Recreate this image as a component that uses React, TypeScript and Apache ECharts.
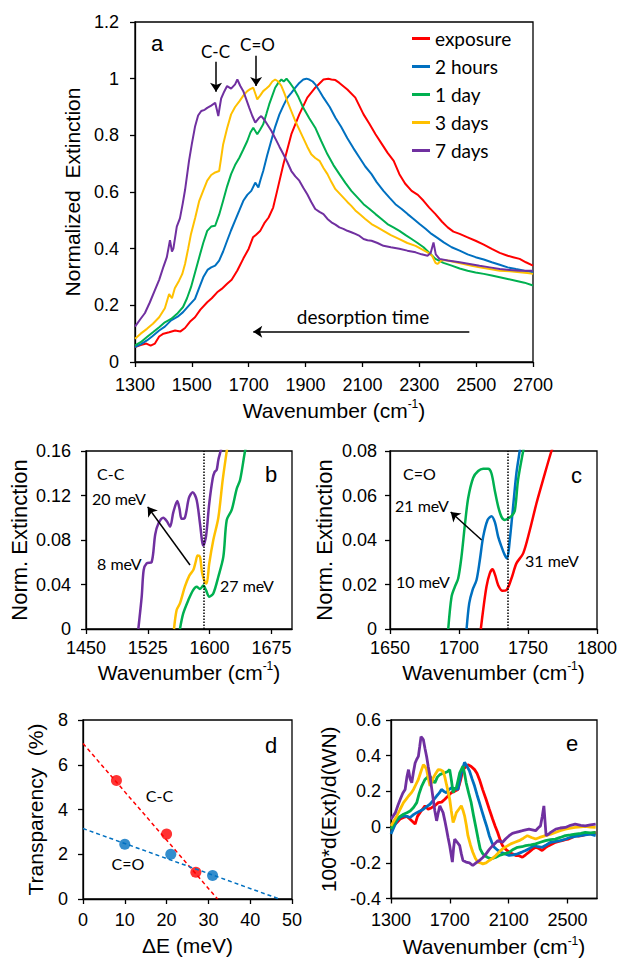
import React, { useEffect, useRef } from 'react';
import * as echarts from 'echarts';

// ---------- shared ----------
const seriesNames = ['exposure', '2 hours', '1 day', '3 days', '7 days'];
const seriesColors = ['#FF0000', '#0070C0', '#00B050', '#FFC000', '#7030A0'];

// ---------- panel a : normalized extinction vs wavenumber ----------
const aExposure = [[1300,0.053],[1320,0.06],[1340,0.065],[1355,0.058],[1370,0.065],[1385,0.09],[1400,0.1],[1420,0.105],[1441,0.111],[1460,0.108],[1476,0.12],[1493,0.142],[1511,0.158],[1530,0.185],[1554,0.211],[1570,0.225],[1589,0.246],[1605,0.258],[1624,0.276],[1640,0.29],[1660,0.323],[1681,0.365],[1700,0.4],[1715,0.44],[1725,0.448],[1740,0.462],[1755,0.49],[1770,0.51],[1786,0.545],[1800,0.604],[1822,0.698],[1850,0.804],[1878,0.874],[1906,0.933],[1934,0.968],[1963,0.997],[1980,1.0],[1991,0.997],[2005,0.995],[2019,0.985],[2047,0.962],[2075,0.933],[2104,0.874],[2125,0.84],[2146,0.804],[2168,0.77],[2188,0.739],[2210,0.71],[2230,0.663],[2250,0.63],[2273,0.604],[2295,0.59],[2315,0.569],[2335,0.545],[2357,0.522],[2380,0.495],[2400,0.475],[2420,0.46],[2442,0.452],[2470,0.44],[2498,0.428],[2525,0.415],[2555,0.399],[2583,0.385],[2611,0.375],[2630,0.37],[2653,0.364],[2675,0.352],[2700,0.34]];
const aHours = [[1300,0.053],[1320,0.062],[1342,0.076],[1360,0.09],[1385,0.111],[1405,0.125],[1427,0.147],[1450,0.16],[1469,0.176],[1490,0.2],[1511,0.223],[1525,0.26],[1540,0.299],[1555,0.325],[1568,0.334],[1582,0.34],[1596,0.358],[1610,0.39],[1624,0.428],[1638,0.465],[1652,0.499],[1667,0.535],[1681,0.569],[1695,0.59],[1709,0.604],[1723,0.633],[1734,0.616],[1742,0.645],[1751,0.674],[1765,0.73],[1779,0.78],[1793,0.83],[1808,0.874],[1822,0.905],[1836,0.933],[1850,0.95],[1864,0.968],[1878,0.985],[1892,0.997],[1903,1.0],[1913,0.997],[1925,0.99],[1934,0.98],[1950,0.955],[1963,0.933],[1985,0.9],[2005,0.862],[2025,0.83],[2047,0.79],[2068,0.755],[2090,0.721],[2110,0.69],[2132,0.663],[2150,0.635],[2174,0.604],[2195,0.58],[2216,0.557],[2238,0.54],[2259,0.522],[2280,0.505],[2301,0.487],[2322,0.47],[2343,0.452],[2365,0.437],[2386,0.422],[2414,0.405],[2442,0.393],[2470,0.38],[2498,0.37],[2527,0.362],[2555,0.352],[2583,0.343],[2611,0.334],[2640,0.328],[2670,0.322],[2700,0.317]];
const aDay = [[1300,0.059],[1320,0.07],[1342,0.088],[1363,0.105],[1385,0.123],[1405,0.14],[1427,0.152],[1448,0.17],[1469,0.194],[1483,0.225],[1497,0.264],[1511,0.315],[1526,0.37],[1540,0.42],[1554,0.463],[1568,0.478],[1582,0.481],[1596,0.52],[1610,0.569],[1624,0.62],[1638,0.663],[1652,0.695],[1667,0.721],[1681,0.75],[1695,0.78],[1706,0.81],[1716,0.827],[1730,0.804],[1740,0.82],[1751,0.839],[1762,0.875],[1772,0.909],[1783,0.94],[1793,0.968],[1804,0.985],[1815,0.997],[1823,0.99],[1833,1.0],[1845,0.985],[1857,0.968],[1875,0.935],[1892,0.897],[1913,0.86],[1934,0.827],[1955,0.78],[1977,0.733],[1998,0.695],[2019,0.663],[2040,0.632],[2061,0.604],[2083,0.58],[2104,0.557],[2125,0.54],[2146,0.522],[2167,0.505],[2188,0.487],[2209,0.475],[2230,0.463],[2252,0.448],[2273,0.434],[2294,0.42],[2315,0.405],[2336,0.385],[2357,0.364],[2385,0.35],[2414,0.34],[2442,0.33],[2470,0.322],[2498,0.316],[2527,0.311],[2555,0.305],[2583,0.299],[2611,0.293],[2639,0.287],[2670,0.28],[2700,0.27]];
const aDays3 = [[1300,0.082],[1320,0.1],[1342,0.117],[1363,0.135],[1385,0.158],[1405,0.19],[1420,0.24],[1430,0.225],[1440,0.26],[1455,0.287],[1466,0.31],[1476,0.346],[1487,0.4],[1497,0.452],[1512,0.51],[1526,0.569],[1540,0.605],[1554,0.64],[1568,0.66],[1582,0.669],[1596,0.674],[1603,0.72],[1610,0.768],[1624,0.825],[1638,0.874],[1652,0.9],[1667,0.92],[1681,0.94],[1695,0.956],[1705,0.963],[1716,0.968],[1724,0.945],[1730,0.927],[1740,0.94],[1751,0.956],[1762,0.965],[1772,0.974],[1783,0.99],[1793,0.997],[1804,0.99],[1815,0.974],[1825,0.95],[1836,0.92],[1850,0.885],[1864,0.85],[1878,0.82],[1892,0.79],[1906,0.76],[1920,0.733],[1934,0.72],[1949,0.71],[1963,0.685],[1977,0.663],[1991,0.635],[2005,0.61],[2019,0.595],[2033,0.58],[2047,0.565],[2061,0.551],[2075,0.535],[2090,0.522],[2110,0.505],[2132,0.487],[2153,0.475],[2174,0.463],[2200,0.448],[2230,0.434],[2258,0.42],[2287,0.41],[2308,0.398],[2329,0.387],[2345,0.375],[2357,0.35],[2364,0.346],[2380,0.36],[2400,0.358],[2428,0.352],[2456,0.346],[2484,0.34],[2512,0.334],[2548,0.328],[2583,0.322],[2618,0.32],[2653,0.317],[2680,0.314],[2700,0.311]];
const aDays7 = [[1300,0.125],[1318,0.15],[1335,0.173],[1352,0.21],[1370,0.254],[1385,0.29],[1400,0.336],[1412,0.37],[1423,0.43],[1430,0.39],[1435,0.4],[1447,0.478],[1458,0.507],[1468,0.56],[1476,0.607],[1490,0.71],[1500,0.77],[1511,0.83],[1522,0.87],[1533,0.886],[1545,0.89],[1554,0.897],[1568,0.905],[1582,0.915],[1588,0.89],[1593,0.868],[1598,0.9],[1603,0.93],[1614,0.955],[1624,0.974],[1638,0.965],[1652,0.98],[1660,0.997],[1670,0.975],[1681,0.956],[1692,0.925],[1702,0.897],[1712,0.87],[1723,0.845],[1735,0.86],[1744,0.868],[1755,0.855],[1765,0.839],[1780,0.815],[1793,0.79],[1808,0.76],[1822,0.733],[1836,0.705],[1850,0.674],[1864,0.655],[1878,0.64],[1892,0.615],[1906,0.592],[1920,0.565],[1934,0.54],[1949,0.53],[1963,0.522],[1977,0.505],[1991,0.493],[2005,0.485],[2019,0.475],[2033,0.47],[2047,0.463],[2061,0.458],[2075,0.452],[2090,0.445],[2104,0.434],[2118,0.43],[2132,0.428],[2153,0.42],[2174,0.41],[2200,0.405],[2230,0.4],[2258,0.393],[2287,0.387],[2308,0.38],[2329,0.375],[2340,0.385],[2350,0.422],[2358,0.38],[2371,0.364],[2400,0.358],[2442,0.352],[2477,0.346],[2512,0.34],[2548,0.334],[2583,0.328],[2618,0.325],[2653,0.322],[2700,0.322]];
const aXTicks = [1300, 2700, 200];
const aYTicks = [0, 1.2, 0.2];
// arrows in panel a: [x1, y1, x2, y2] in data units
const aArrowCC = [1585, 1.06, 1585, 0.954];
const aArrowCO = [1726, 1.081, 1726, 0.974];
const aArrowTime = [2476, 0.107, 1716, 0.107];

// ---------- panel b : C-C region ----------
const bDays7 = [[1513.5,0],[1517.6,0.029],[1520,0.053],[1523.6,0.059],[1529.6,0.06],[1534,0.085],[1538,0.095],[1543.8,0.1],[1548,0.097],[1552,0.092],[1556,0.105],[1560.8,0.115],[1563.5,0.108],[1566,0.099],[1570,0.1],[1575,0.118],[1579.5,0.123],[1584.3,0.116],[1588.3,0.095],[1592.4,0.075],[1595.6,0.083],[1599.6,0.113],[1603.7,0.135],[1606,0.141],[1608.6,0.143],[1610.6,0.152],[1613.4,0.16],[1615,0.166]];
const bDays3 = [[1556.8,0],[1560,0.017],[1564,0.023],[1570,0.038],[1575.4,0.048],[1580.2,0.053],[1583,0.06],[1585.5,0.066],[1588.3,0.065],[1591,0.05],[1594.4,0.042],[1596.4,0.041],[1599.6,0.059],[1604.5,0.08],[1610.6,0.1],[1615.9,0.134],[1620.8,0.16],[1622,0.166]];
const bDay = [[1564,0],[1568,0.014],[1574.2,0.026],[1580,0.035],[1584.3,0.038],[1588.3,0.036],[1592.4,0.039],[1595.6,0.035],[1599.6,0.029],[1604.5,0.032],[1610.6,0.047],[1616.7,0.065],[1620.8,0.098],[1626.8,0.107],[1632.9,0.126],[1637,0.134],[1643,0.16],[1645,0.166]];
const bXTicks = [1450, 1525, 1600, 1675];
const bXMax = 1700;
const bYTicks = [0, 0.16, 0.04];
const bDotted = 1593;
const bArrow = [1576.2, 0.0575, 1524.9, 0.1098];

// ---------- panel c : C=O region ----------
const cDay = [[1692.2,0],[1694.6,0.0145],[1697,0.019],[1699.4,0.0227],[1701.8,0.0325],[1704.3,0.047],[1706.7,0.059],[1710.3,0.068],[1713.9,0.071],[1717.5,0.072],[1721.1,0.072],[1723.5,0.07],[1726,0.062],[1728.4,0.055],[1730.8,0.0504],[1733.2,0.049],[1735.6,0.0497],[1738,0.0507],[1740.4,0.053],[1742.8,0.067],[1746.5,0.08],[1747.5,0.083]];
const cHours = [[1705.5,0],[1707.4,0.0115],[1709.8,0.0175],[1712.7,0.022],[1715.1,0.031],[1717.5,0.0414],[1720.7,0.049],[1723.5,0.0507],[1726,0.048],[1728.4,0.0414],[1730.8,0.037],[1733.2,0.0332],[1734.9,0.0317],[1736.8,0.04],[1739.2,0.055],[1741.6,0.07],[1744,0.08],[1745,0.084]];
const cExposure = [[1715.8,0],[1717.5,0.0085],[1719.9,0.019],[1722.3,0.025],[1724.3,0.0268],[1726.2,0.0242],[1728.4,0.0197],[1731.5,0.0172],[1734.4,0.0175],[1738,0.0227],[1741.6,0.0295],[1746.5,0.034],[1751.3,0.0444],[1756.1,0.0564],[1760.9,0.067],[1767,0.08],[1769,0.083]];
const cXTicks = [1650, 1800, 50];
const cYTicks = [0, 0.08, 0.02];
const cDotted = 1735;
const cArrow = [1716.4, 0.04, 1694, 0.0526];

// ---------- panel d : transparency vs delta E ----------
const dCC = [[8, 5.3], [20, 2.9], [27, 1.2]];
const dCO = [[10, 2.45], [21, 2.0], [31, 1.05]];
const dCCFit = [[0, 6.95], [32.2, 0]];
const dCOFit = [[0, 3.15], [47, 0]];
const dXTicks = [0, 50, 10];
const dYTicks = [0, 8, 2];

// ---------- panel e : derivative ----------
const eExposure = [[1300,-0.01],[1320,0.01],[1340,0.026],[1362,0.045],[1385,0.054],[1408,0.06],[1430,0.044],[1448,0.03],[1464,0.017],[1480,0.06],[1497,0.081],[1514,0.1],[1531,0.119],[1553,0.1],[1576,0.109],[1598,0.12],[1621,0.137],[1644,0.14],[1666,0.156],[1688,0.175],[1710,0.193],[1732,0.2],[1755,0.211],[1772,0.26],[1789,0.322],[1806,0.335],[1823,0.35],[1845,0.34],[1868,0.322],[1885,0.3],[1901,0.267],[1923,0.21],[1946,0.156],[1968,0.1],[1991,0.044],[2008,0.005],[2025,-0.03],[2041,-0.07],[2058,-0.104],[2080,-0.125],[2103,-0.14],[2125,-0.15],[2148,-0.159],[2170,-0.16],[2193,-0.169],[2215,-0.155],[2238,-0.14],[2260,-0.125],[2283,-0.113],[2305,-0.12],[2327,-0.131],[2350,-0.115],[2372,-0.104],[2395,-0.095],[2417,-0.085],[2440,-0.08],[2462,-0.076],[2485,-0.07],[2507,-0.067],[2530,-0.058],[2552,-0.048],[2575,-0.05],[2597,-0.048],[2620,-0.042],[2641,-0.039],[2665,-0.035],[2691,-0.03]];
const eHours = [[1300,-0.039],[1320,0.0],[1340,0.035],[1362,0.055],[1385,0.063],[1408,0.06],[1430,0.054],[1453,0.07],[1475,0.081],[1497,0.09],[1520,0.1],[1542,0.115],[1565,0.128],[1587,0.15],[1610,0.174],[1627,0.19],[1643,0.211],[1660,0.2],[1677,0.193],[1694,0.21],[1710,0.22],[1733,0.215],[1755,0.211],[1767,0.26],[1778,0.304],[1800,0.363],[1817,0.34],[1834,0.313],[1851,0.27],[1868,0.23],[1885,0.18],[1901,0.137],[1918,0.09],[1935,0.044],[1952,0.0],[1968,-0.048],[1985,-0.085],[2002,-0.113],[2025,-0.13],[2047,-0.141],[2075,-0.15],[2103,-0.159],[2130,-0.155],[2160,-0.15],[2190,-0.14],[2215,-0.131],[2245,-0.118],[2272,-0.104],[2300,-0.11],[2328,-0.113],[2355,-0.1],[2385,-0.085],[2420,-0.08],[2452,-0.076],[2485,-0.068],[2520,-0.057],[2555,-0.052],[2585,-0.048],[2620,-0.043],[2655,-0.039],[2691,-0.048]];
const eDay = [[1300,-0.011],[1320,0.02],[1340,0.044],[1362,0.06],[1385,0.072],[1408,0.08],[1430,0.09],[1453,0.11],[1475,0.137],[1492,0.19],[1509,0.23],[1531,0.267],[1548,0.28],[1565,0.285],[1582,0.262],[1598,0.248],[1615,0.28],[1632,0.294],[1650,0.3],[1666,0.304],[1683,0.31],[1699,0.322],[1711,0.26],[1722,0.193],[1733,0.215],[1744,0.22],[1755,0.26],[1767,0.304],[1789,0.341],[1800,0.3],[1811,0.248],[1828,0.19],[1845,0.137],[1862,0.06],[1879,-0.011],[1893,-0.07],[1906,-0.122],[1920,-0.145],[1935,-0.159],[1958,-0.17],[1980,-0.178],[2010,-0.17],[2036,-0.159],[2070,-0.15],[2103,-0.141],[2130,-0.125],[2160,-0.113],[2190,-0.11],[2215,-0.104],[2250,-0.1],[2283,-0.094],[2315,-0.085],[2350,-0.076],[2385,-0.07],[2417,-0.067],[2450,-0.058],[2485,-0.048],[2520,-0.044],[2552,-0.039],[2590,-0.035],[2620,-0.03],[2655,-0.032],[2691,-0.03]];
const eDays3 = [[1300,0.007],[1320,0.035],[1340,0.063],[1362,0.1],[1385,0.137],[1402,0.155],[1419,0.174],[1436,0.19],[1453,0.211],[1470,0.24],[1486,0.267],[1503,0.31],[1520,0.35],[1531,0.34],[1542,0.322],[1553,0.275],[1565,0.23],[1576,0.25],[1587,0.276],[1604,0.3],[1621,0.322],[1638,0.32],[1654,0.313],[1666,0.28],[1677,0.239],[1688,0.2],[1699,0.156],[1710,0.09],[1722,0.026],[1733,0.05],[1744,0.081],[1761,0.1],[1778,0.119],[1789,0.095],[1800,0.063],[1812,0.01],[1823,-0.048],[1840,-0.1],[1856,-0.141],[1873,-0.175],[1890,-0.196],[1907,-0.2],[1924,-0.206],[1946,-0.2],[1968,-0.187],[1990,-0.175],[2012,-0.159],[2035,-0.14],[2058,-0.122],[2085,-0.108],[2114,-0.094],[2142,-0.085],[2170,-0.076],[2200,-0.062],[2227,-0.048],[2255,-0.058],[2283,-0.067],[2310,-0.058],[2350,-0.048],[2385,-0.04],[2417,-0.03],[2450,-0.02],[2485,-0.011],[2520,-0.006],[2552,-0.002],[2590,0.002],[2620,0.004],[2655,0.0],[2691,-0.002]];
const eDays7 = [[1300,0.044],[1330,0.081],[1346,0.12],[1363,0.156],[1380,0.19],[1396,0.211],[1408,0.28],[1419,0.322],[1430,0.27],[1441,0.248],[1453,0.31],[1464,0.359],[1475,0.38],[1486,0.396],[1495,0.45],[1504,0.507],[1512,0.5],[1520,0.489],[1531,0.44],[1542,0.396],[1553,0.34],[1565,0.285],[1576,0.22],[1587,0.156],[1598,0.09],[1610,0.035],[1621,0.08],[1632,0.119],[1643,0.1],[1654,0.081],[1666,0.035],[1677,-0.011],[1688,-0.06],[1699,-0.104],[1708,-0.15],[1717,-0.196],[1725,-0.12],[1733,-0.067],[1750,-0.085],[1767,-0.104],[1778,-0.15],[1789,-0.187],[1810,-0.196],[1833,-0.2],[1856,-0.215],[1878,-0.2],[1901,-0.187],[1924,-0.17],[1946,-0.15],[1968,-0.125],[1991,-0.104],[2008,-0.09],[2025,-0.076],[2041,-0.08],[2058,-0.085],[2080,-0.065],[2103,-0.048],[2125,-0.035],[2148,-0.03],[2170,-0.025],[2193,-0.02],[2215,-0.015],[2238,-0.011],[2260,-0.015],[2283,-0.02],[2300,-0.005],[2316,0.007],[2328,0.06],[2339,0.119],[2347,0.03],[2354,-0.048],[2370,-0.04],[2385,-0.03],[2420,-0.011],[2450,-0.005],[2485,-0.002],[2520,0.01],[2552,0.017],[2590,0.01],[2620,0.007],[2655,0.012],[2691,0.017]];
const eXTicks = [1300, 1700, 2100, 2500];
const eXMax = 2700;
const eYTicks = [-0.4, 0.6, 0.2];

// ---------- styling ----------
const ARIAL = '"Liberation Sans", Arial, Helvetica, sans-serif';
const CALIBRI = 'Lato, "Open Sans", sans-serif';
const TICK_FS = 18;
const SUP = { sup: { fontSize: 12, verticalAlign: 'top', fontFamily: ARIAL, color: '#000', lineHeight: 24 } };
const fmt = (v: number) => String(Number(v.toFixed(4)));

function baseAxis(gridIndex: number, labelMargin: number, titleSize: number, extra: any) {
  return {
    type: 'value',
    gridIndex,
    axisLine: { show: true, onZero: false, lineStyle: { color: '#000', width: 1.3 } },
    axisTick: { show: true, length: 5, lineStyle: { color: '#000', width: 1.3 } },
    axisLabel: { color: '#000', fontSize: TICK_FS, fontFamily: ARIAL, margin: labelMargin, formatter: fmt },
    splitLine: { show: false },
    nameLocation: 'middle',
    nameTextStyle: { color: '#000', fontSize: titleSize, fontFamily: ARIAL, rich: SUP },
    ...extra,
  };
}

function valueAxis(gridIndex: number, ext: number[], labelMargin: number, titleSize: number, extra: any = {}) {
  return baseAxis(gridIndex, labelMargin, titleSize, { min: ext[0], max: ext[1], interval: ext[2], ...extra });
}

function customAxis(gridIndex: number, ticks: number[], max: number, labelMargin: number, titleSize: number, extra: any = {}) {
  const ax: any = baseAxis(gridIndex, labelMargin, titleSize, { min: ticks[0], max, interval: ticks[1] - ticks[0], ...extra });
  ax.axisTick = { ...ax.axisTick, customValues: ticks };
  ax.axisLabel = { ...ax.axisLabel, customValues: ticks };
  return ax;
}

function lineSeries(name: string, data: number[][], color: string, axis: number, width: number, extra: any = {}) {
  return {
    type: 'line',
    name,
    data,
    xAxisIndex: axis,
    yAxisIndex: axis,
    symbol: 'none',
    showSymbol: false,
    clip: true,
    lineStyle: { color, width },
    itemStyle: { color },
    emphasis: { disabled: true },
    ...extra,
  };
}

function arrow(a: number[]) {
  return [
    { coord: [a[0], a[1]], symbol: 'none' },
    { coord: [a[2], a[3]], symbol: 'arrow' },
  ];
}

function dotted(x: number, yMin: number, yMax: number) {
  return [
    { coord: [x, yMin], symbol: 'none', lineStyle: { type: 'dotted', width: 1.5, color: '#000' } },
    { coord: [x, yMax], symbol: 'none' },
  ];
}

const ARROW_STYLE = { color: '#000', width: 1.5, type: 'solid' };

function txt(text: string, x: number, y: number, size: number, family: string, align = 'left') {
  return {
    type: 'text',
    x,
    y,
    silent: true,
    style: {
      text,
      fontSize: size,
      fontFamily: family,
      fill: '#000',
      align,
      textAlign: align,
      verticalAlign: 'middle',
      textVerticalAlign: 'middle',
    },
  };
}

export default function App() {
  const ref = useRef<HTMLDivElement>(null);

  useEffect(() => {
    document.body.style.margin = '0';
    if (!ref.current) return;
    const chart = echarts.init(ref.current, null, { renderer: 'svg' });

    const grids = [
      { left: 135, top: 22, width: 398, height: 340 },
      { left: 86, top: 451, width: 206, height: 178 },
      { left: 390, top: 451, width: 207, height: 178 },
      { left: 83, top: 720, width: 209, height: 179 },
      { left: 391, top: 720, width: 206, height: 180 },
    ].map((g) => ({ ...g, show: true, borderColor: '#000', borderWidth: 1.3, containLabel: false }));

    const WN = 'Wavenumber (cm{sup|-1})';
    const xAxis = [
      valueAxis(0, aXTicks, 14, 21, { name: WN, nameGap: 36 }),
      customAxis(1, bXTicks, bXMax, 10, 21, { name: WN, nameGap: 31 }),
      valueAxis(2, cXTicks, 10, 21, { name: WN, nameGap: 31 }),
      valueAxis(3, dXTicks, 12, 21, { name: 'ΔE (meV)', nameGap: 36 }),
      customAxis(4, eXTicks, eXMax, 12, 21, { name: WN, nameGap: 36 }),
    ];
    const yAxis = [
      valueAxis(0, aYTicks, 16, 21, { name: 'Normalized  Extinction', nameGap: 50 }),
      valueAxis(1, bYTicks, 15, 22, { name: 'Norm. Extinction', nameGap: 56 }),
      valueAxis(2, cYTicks, 13, 22, { name: 'Norm. Extinction', nameGap: 55 }),
      valueAxis(3, dYTicks, 15, 21, { name: 'Transparency  (%)', nameGap: 37 }),
      valueAxis(4, eYTicks, 10, 21, { name: '100*d(Ext)/d(WN)', nameGap: 52 }),
    ];

    const aData = [aExposure, aHours, aDay, aDays3, aDays7];
    const eData = [eExposure, eHours, eDay, eDays3, eDays7];

    const series: any[] = [];
    aData.forEach((d, i) => series.push(lineSeries(seriesNames[i], d, seriesColors[i], 0, 2)));
    series.push(
      lineSeries('a-arrows', [], '#000', 0, 1, {
        markLine: {
          silent: true,
          symbolSize: 9,
          label: { show: false },
          lineStyle: ARROW_STYLE,
          data: [arrow(aArrowCC), arrow(aArrowCO), arrow(aArrowTime)],
        },
      })
    );

    // panel b
    series.push(lineSeries('b 1 day', bDay, seriesColors[2], 1, 2.5, { smooth: 0.3 }));
    series.push(lineSeries('b 3 days', bDays3, seriesColors[3], 1, 2.5, { smooth: 0.3 }));
    series.push(lineSeries('b 7 days', bDays7, seriesColors[4], 1, 2.5, { smooth: 0.3 }));
    series.push(
      lineSeries('b-marks', [], '#000', 1, 1, {
        markLine: {
          silent: true,
          symbolSize: 9,
          label: { show: false },
          lineStyle: ARROW_STYLE,
          data: [dotted(bDotted, bYTicks[0], bYTicks[1]), arrow(bArrow)],
        },
      })
    );

    // panel c
    series.push(lineSeries('c exposure', cExposure, seriesColors[0], 2, 2.5, { smooth: 0.3 }));
    series.push(lineSeries('c 2 hours', cHours, seriesColors[1], 2, 2.5, { smooth: 0.3 }));
    series.push(lineSeries('c 1 day', cDay, seriesColors[2], 2, 2.5, { smooth: 0.3 }));
    series.push(
      lineSeries('c-marks', [], '#000', 2, 1, {
        markLine: {
          silent: true,
          symbolSize: 9,
          label: { show: false },
          lineStyle: ARROW_STYLE,
          data: [dotted(cDotted, cYTicks[0], cYTicks[1]), arrow(cArrow)],
        },
      })
    );

    // panel d
    series.push(lineSeries('C-C fit', dCCFit, '#FF0000', 3, 1.5, { lineStyle: { color: '#FF0000', width: 1.5, type: [4, 3] } }));
    series.push(lineSeries('C=O fit', dCOFit, '#0070C0', 3, 1.5, { lineStyle: { color: '#0070C0', width: 1.5, type: [4, 3] } }));
    series.push({ type: 'scatter', name: 'C-C', data: dCC, xAxisIndex: 3, yAxisIndex: 3, symbolSize: 11, itemStyle: { color: '#FF0000' }, emphasis: { disabled: true } });
    series.push({ type: 'scatter', name: 'C=O', data: dCO, xAxisIndex: 3, yAxisIndex: 3, symbolSize: 11, itemStyle: { color: '#0070C0' }, emphasis: { disabled: true } });

    // panel e
    eData.forEach((d, i) => series.push(lineSeries('e ' + seriesNames[i], d, seriesColors[i], 4, 2.8)));

    const graphic = [
      // panel a
      txt('a', 157, 43, 22, ARIAL, 'center'),
      txt('C-C', 215.5, 51, 17, CALIBRI, 'center'),
      txt('C=O', 257.5, 44.5, 17, CALIBRI, 'center'),
      txt('desorption time', 363, 316.5, 19, CALIBRI, 'center'),
      // panel b
      txt('C-C', 97, 473, 16, CALIBRI),
      txt('b', 271, 474, 22, ARIAL, 'center'),
      txt('20 meV', 92, 498, 16, CALIBRI),
      txt('8 meV', 97, 563, 16, CALIBRI),
      txt('27 meV', 220, 585, 16, CALIBRI),
      // panel c
      txt('C=O', 403, 473, 16, CALIBRI),
      txt('c', 576.5, 475, 22, ARIAL, 'center'),
      txt('21 meV', 395, 505, 16, CALIBRI),
      txt('10 meV', 396, 581.5, 16, CALIBRI),
      txt('31 meV', 525, 560, 16, CALIBRI),
      // panel d
      txt('C-C', 159.5, 795, 16, CALIBRI, 'center'),
      txt('C=O', 128, 863, 16, CALIBRI, 'center'),
      txt('d', 271, 745, 22, ARIAL, 'center'),
      // panel e
      txt('e', 572, 743, 22, ARIAL, 'center'),
    ];

    chart.setOption({
      animation: false,
      backgroundColor: '#fff',
      grid: grids,
      xAxis,
      yAxis,
      legend: {
        data: seriesNames,
        orient: 'vertical',
        left: 412,
        top: 29,
        padding: 0,
        itemWidth: 18,
        itemHeight: 3,
        itemGap: 9,
        icon: 'rect',
        selectedMode: false,
        textStyle: { fontSize: 19, fontFamily: CALIBRI, color: '#000' },
      },
      series,
      graphic,
    });

    return () => chart.dispose();
  }, []);

  return <div ref={ref} style={{ width: 622, height: 958 }} />;
}
